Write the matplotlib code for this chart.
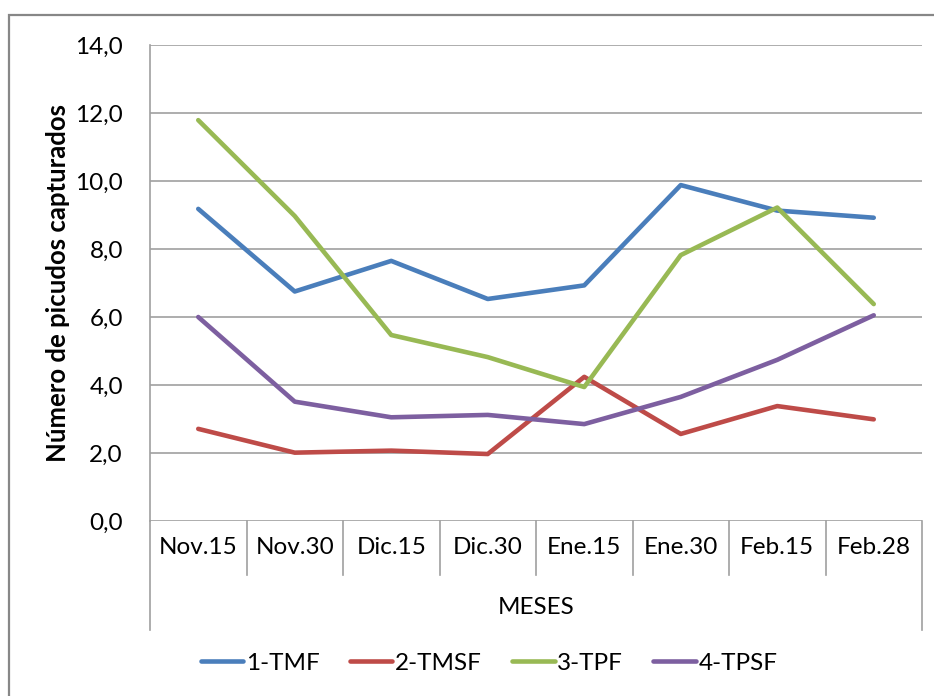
import numpy as np
import matplotlib
matplotlib.use("Agg")
import matplotlib.pyplot as plt
from matplotlib.patches import Rectangle
from matplotlib.lines import Line2D

# datos
meses = ['Nov.15', 'Nov.30', 'Dic.15', 'Dic.30', 'Ene.15', 'Ene.30', 'Feb.15', 'Feb.28']
tmf = [9.18, 6.75, 7.65, 6.53, 6.93, 9.88, 9.13, 8.92]
tmsf = [2.71, 2.01, 2.07, 1.97, 4.24, 2.56, 3.38, 2.99]
tpf = [11.79, 8.97, 5.47, 4.82, 3.94, 7.82, 9.22, 6.38]
tpsf = [6.0, 3.51, 3.05, 3.12, 2.85, 3.65, 4.74, 6.05]
series = ['1-TMF', '2-TMSF', '3-TPF', '4-TPSF']
colores = ['#4A7EBB', '#BE4B48', '#98B954', '#7D5FA0']

plt.rcParams['font.family'] = ['Lato', 'DejaVu Sans']
fs = 17.5

W, H = 934, 696
fig = plt.figure(figsize=(W / 100, H / 100), dpi=100)

# marco exterior
fig.patches.append(Rectangle((9 / W, -0.1), 1.0, (H - 15) / H + 0.1, transform=fig.transFigure,
                             fill=False, edgecolor='#878787', linewidth=1.6))

left, right, top, bottom = 150, 922, 45, 521
ax = fig.add_axes([left / W, 1 - bottom / H, (right - left) / W, (bottom - top) / H])

x = np.arange(len(meses)) + 0.5
for vals, nom, c in zip([tmf, tmsf, tpf, tpsf], series, colores):
    ax.plot(x, vals, color=c, lw=3.3, solid_capstyle='round', solid_joinstyle='round', label=nom)

ax.set_xlim(0, len(meses))
ax.set_ylim(0, 14)
ax.set_yticks(np.arange(0, 15, 2))
ax.set_yticklabels([f'{v:.1f}'.replace('.', ',') for v in np.arange(0, 15, 2)], fontsize=fs)
ax.set_xticks([])
ax.tick_params(axis='y', length=0, pad=19.5)
ax.grid(axis='y', color='#A0A0A0', lw=1.2)
ax.set_axisbelow(True)
for s in ['top', 'right', 'bottom']:
    ax.spines[s].set_visible(False)
ax.spines['left'].set_color('#A0A0A0')
ax.spines['left'].set_linewidth(1.2)

ax.set_ylabel('Número de picudos capturados', fontsize=18.5, fontweight='bold', labelpad=4)

# cajas del eje de categorias
alto = bottom - top
y1 = -54 / alto
y2 = -109 / alto
for i in range(len(meses) + 1):
    yy = y2 if i in (0, len(meses)) else y1
    ax.plot([i, i], [0, yy], transform=ax.get_xaxis_transform(), color='#A0A0A0', lw=1.2, clip_on=False)
for xi, m in zip(x, meses):
    ax.text(xi, -27 / alto, m, transform=ax.get_xaxis_transform(), ha='center', va='center', fontsize=fs)
ax.text(0.5, -87 / alto, 'MESES', transform=ax.transAxes, ha='center', va='center', fontsize=fs)

handles = [Line2D([], [], color=c, lw=3.3, solid_capstyle='round') for c in colores]
fig.legend(handles, series, loc='center', bbox_to_anchor=(489 / W, 1 - 663 / H), ncol=4, frameon=False,
           fontsize=fs, handlelength=1.75, handletextpad=0.1, columnspacing=1.25)

fig.savefig('out.png', dpi=100)
